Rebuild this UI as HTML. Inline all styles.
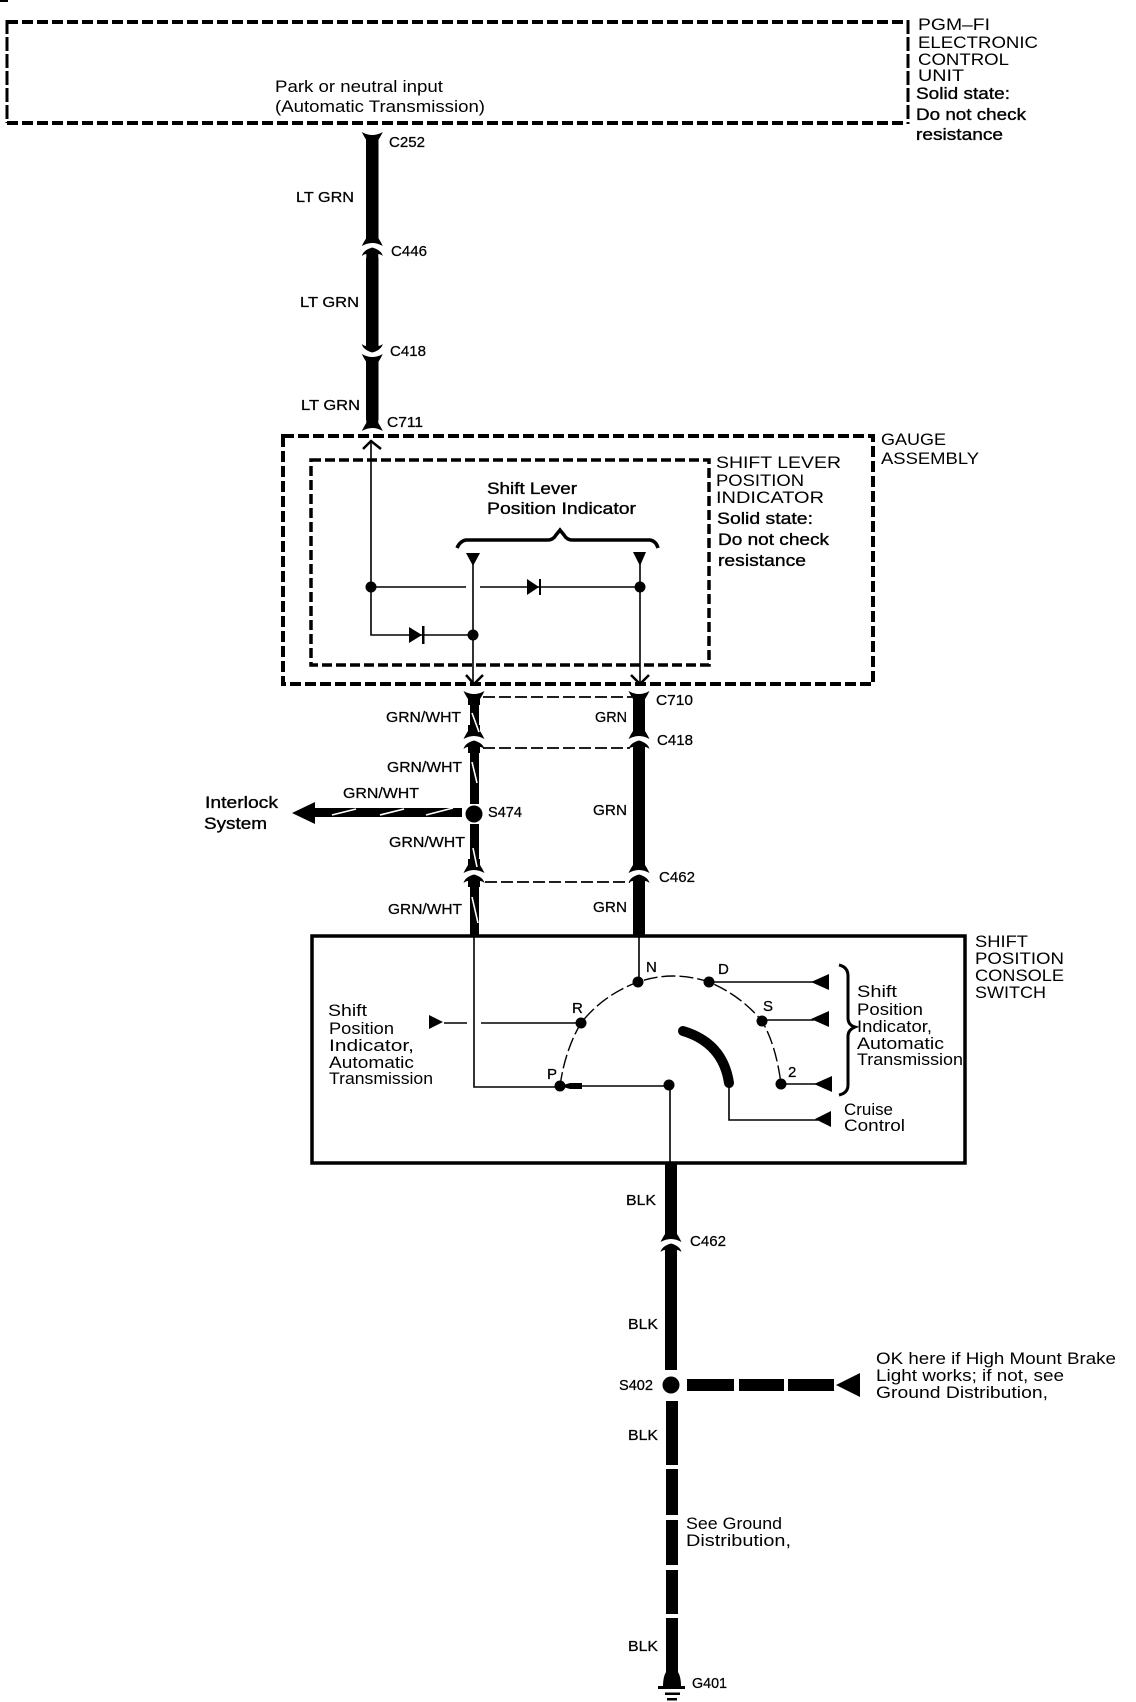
<!DOCTYPE html>
<html><head><meta charset="utf-8"><style>
html,body{margin:0;padding:0;background:#fff}
svg{display:block}
text{font-family:"Liberation Sans",sans-serif;font-size:16.5px;fill:#000}
.c{font-size:15px;stroke:#000;stroke-width:.25}
.b{stroke:#000;stroke-width:.35}
.t{fill:none;stroke:#000;stroke-width:1.6}
.w{stroke:#fff;stroke-width:1.6;fill:none}
</style></head><body>
<svg width="1136" height="1702" viewBox="0 0 1136 1702" xmlns="http://www.w3.org/2000/svg">
<defs>
<path id="cu" d="M-6,-14 L6,-14 L6,-8 Q8,-5 10.5,0 Q0,-6 -10.5,0 Q-8,-5 -6,-8 Z"/>
<path id="cl" d="M-10.5,10 Q-9,4 0,1.5 Q9,4 10.5,10 Q8,8 6,8 L6,14 L-6,14 L-6,8 Q-8,8 -10.5,10 Z"/>
<g id="conn"><use href="#cu"/><use href="#cl"/></g>
</defs>
<rect width="1136" height="1702" fill="#fff"/>
<rect x="0" y="0" width="8" height="2"/>

<!-- ECU box -->
<path d="M7,22 H907" fill="none" stroke="#000" stroke-width="4" stroke-dasharray="11 4"/>
<path d="M7,123 H907" fill="none" stroke="#000" stroke-width="4" stroke-dasharray="11 4"/>
<path d="M7,20 V123" fill="none" stroke="#000" stroke-width="3" stroke-dasharray="14 3"/>
<path d="M908,20 V124" fill="none" stroke="#000" stroke-width="3" stroke-dasharray="14 3"/>
<text x="275" y="92" textLength="168" lengthAdjust="spacingAndGlyphs">Park or neutral input</text>
<text x="275" y="112" textLength="210" lengthAdjust="spacingAndGlyphs">(Automatic Transmission)</text>
<text x="918" y="30" textLength="72" lengthAdjust="spacingAndGlyphs">PGM–FI</text>
<text x="918" y="48" textLength="120" lengthAdjust="spacingAndGlyphs">ELECTRONIC</text>
<text x="918" y="65" textLength="91" lengthAdjust="spacingAndGlyphs">CONTROL</text>
<text x="918" y="81" textLength="46" lengthAdjust="spacingAndGlyphs">UNIT</text>
<text class="b" x="916" y="99" textLength="94" lengthAdjust="spacingAndGlyphs">Solid state:</text>
<text class="b" x="916" y="120" textLength="110" lengthAdjust="spacingAndGlyphs">Do not check</text>
<text class="b" x="916" y="140" textLength="87" lengthAdjust="spacingAndGlyphs">resistance</text>

<!-- Upper wire -->
<rect x="366" y="136" width="12.5" height="105"/>
<rect x="366" y="258" width="12.5" height="88"/>
<rect x="366" y="360" width="12.5" height="60"/>
<use href="#cu" transform="translate(372.3,132) scale(1,-1)"/>
<use href="#conn" transform="translate(372.3,246)"/>
<use href="#conn" transform="translate(372.3,354) scale(1,-1)"/>
<use href="#cu" transform="translate(372.3,431)"/>
<text class="c" x="389" y="147" textLength="36" lengthAdjust="spacingAndGlyphs">C252</text>
<text class="c" x="391" y="256" textLength="36" lengthAdjust="spacingAndGlyphs">C446</text>
<text class="c" x="390" y="356" textLength="36" lengthAdjust="spacingAndGlyphs">C418</text>
<text class="c" x="387" y="427" textLength="36" lengthAdjust="spacingAndGlyphs">C711</text>
<text class="c" x="296" y="202" textLength="58" lengthAdjust="spacingAndGlyphs">LT GRN</text>
<text class="c" x="300" y="307" textLength="59" lengthAdjust="spacingAndGlyphs">LT GRN</text>
<text class="c" x="301" y="410" textLength="59" lengthAdjust="spacingAndGlyphs">LT GRN</text>

<!-- Gauge box -->
<path d="M283,436 H873 V684 H283 Z" fill="none" stroke="#000" stroke-width="4" stroke-dasharray="11 4"/>
<text x="881" y="445" textLength="65" lengthAdjust="spacingAndGlyphs">GAUGE</text>
<text x="881" y="464" textLength="98" lengthAdjust="spacingAndGlyphs">ASSEMBLY</text>
<!-- Indicator box -->
<path d="M311,460 H709 V665 H311 Z" fill="none" stroke="#000" stroke-width="3.5" stroke-dasharray="10 4"/>
<text x="716" y="468" textLength="125" lengthAdjust="spacingAndGlyphs">SHIFT LEVER</text>
<text x="716" y="486" textLength="88" lengthAdjust="spacingAndGlyphs">POSITION</text>
<text x="716" y="503" textLength="108" lengthAdjust="spacingAndGlyphs">INDICATOR</text>
<text class="b" x="717" y="524" textLength="96" lengthAdjust="spacingAndGlyphs">Solid state:</text>
<text class="b" x="718" y="545" textLength="111" lengthAdjust="spacingAndGlyphs">Do not check</text>
<text class="b" x="718" y="566" textLength="88" lengthAdjust="spacingAndGlyphs">resistance</text>
<text class="b" x="487" y="494" textLength="90" lengthAdjust="spacingAndGlyphs">Shift Lever</text>
<text class="b" x="487" y="514" textLength="149" lengthAdjust="spacingAndGlyphs">Position Indicator</text>

<!-- Indicator internals -->
<path d="M457,548 Q460,541 466,540 H548 Q553,540 556,535 L560,530 L564,535 Q567,540 572,540 H650 Q656,541 658,548" fill="none" stroke="#000" stroke-width="3.5"/>
<path class="t" d="M371,440 V635 H473"/>
<path d="M363,449 L371,441 L381,449" fill="none" stroke="#000" stroke-width="2.5"/>
<path class="t" d="M371,587 H466 M480,587 H640"/>
<path class="t" d="M473,560 V682 M640,560 V682"/>
<path d="M466,553 H480 L473,566 Z M633,552 H646 L640,566 Z"/>
<path d="M527,579 L539,587 L527,595 Z M409,627 L422,635 L409,643 Z"/>
<rect x="539" y="579" width="2" height="16"/><rect x="422" y="626" width="2.5" height="18"/>
<circle cx="371" cy="587" r="5.5"/><circle cx="640" cy="587" r="5.5"/><circle cx="473" cy="635" r="5.5"/>
<path d="M466,675 L474,684 L483,675 M631,675 L640,684 L649,675" fill="none" stroke="#000" stroke-width="2.5"/>

<!-- Lower pair of wires -->
<rect x="470" y="695" width="9" height="38"/>
<rect x="470" y="750" width="9" height="54"/>
<rect x="470" y="824" width="9" height="44"/>
<rect x="470" y="885" width="9" height="51"/>
<rect x="633" y="695" width="12" height="38"/>
<rect x="633" y="750" width="12" height="118"/>
<rect x="633" y="885" width="12" height="51"/>
<use href="#cu" transform="translate(474,691) scale(1,-1)"/>
<use href="#cu" transform="translate(639,691) scale(1,-1)"/>
<use href="#conn" transform="translate(474,739)"/>
<use href="#conn" transform="translate(639,739)"/>
<use href="#conn" transform="translate(474,873)"/>
<use href="#conn" transform="translate(639,873)"/>
<path d="M472,713 L479,732 M472,762 L477,783 M473,848 L477,867 M472,897 L478,923" class="w"/>
<path d="M483,697 H632 M483,748 H630 M485,882 H630" fill="none" stroke="#000" stroke-width="1.8" stroke-dasharray="12 4"/>
<!-- Interlock branch -->
<rect x="312" y="808" width="150" height="9"/>
<path d="M292,813 L315,802 V824 Z"/>
<path class="w" d="M332,815 L356,809 M380,815 L404,809 M426,815 L453,808" stroke-width="2"/>
<circle cx="474" cy="814" r="8.5"/>
<text class="c" x="386" y="722" textLength="75" lengthAdjust="spacingAndGlyphs">GRN/WHT</text>
<text class="c" x="387" y="772" textLength="75" lengthAdjust="spacingAndGlyphs">GRN/WHT</text>
<text class="c" x="343" y="798" textLength="76" lengthAdjust="spacingAndGlyphs">GRN/WHT</text>
<text class="c" x="389" y="847" textLength="76" lengthAdjust="spacingAndGlyphs">GRN/WHT</text>
<text class="c" x="388" y="914" textLength="74" lengthAdjust="spacingAndGlyphs">GRN/WHT</text>
<text class="c" x="595" y="722" textLength="32" lengthAdjust="spacingAndGlyphs">GRN</text>
<text class="c" x="593" y="815" textLength="34" lengthAdjust="spacingAndGlyphs">GRN</text>
<text class="c" x="593" y="912" textLength="34" lengthAdjust="spacingAndGlyphs">GRN</text>
<text class="c" x="656" y="705" textLength="37" lengthAdjust="spacingAndGlyphs">C710</text>
<text class="c" x="657" y="745" textLength="36" lengthAdjust="spacingAndGlyphs">C418</text>
<text class="c" x="659" y="882" textLength="36" lengthAdjust="spacingAndGlyphs">C462</text>
<text class="c" x="488" y="817" textLength="34" lengthAdjust="spacingAndGlyphs">S474</text>
<text class="b" x="205" y="808" textLength="73" lengthAdjust="spacingAndGlyphs">Interlock</text>
<text class="b" x="204" y="829" textLength="63" lengthAdjust="spacingAndGlyphs">System</text>

<!-- Switch box -->
<rect x="312" y="936" width="653" height="227" fill="none" stroke="#000" stroke-width="3.5"/>
<text x="975" y="947" textLength="53" lengthAdjust="spacingAndGlyphs">SHIFT</text>
<text x="975" y="964" textLength="89" lengthAdjust="spacingAndGlyphs">POSITION</text>
<text x="975" y="981" textLength="89" lengthAdjust="spacingAndGlyphs">CONSOLE</text>
<text x="975" y="998" textLength="71" lengthAdjust="spacingAndGlyphs">SWITCH</text>
<path class="t" d="M474,936 V1087 H560 M639,936 V982 M709,982 H814 M762,1020 H814 M781,1084 H816 M444,1023 H467 M481,1023 H581 M560,1086 H669 M670,1085 V1163 M729,1083 V1120 H818"/>
<path d="M560,1086 L570,1083 L582,1083 V1089 L570,1089 Z"/>
<path d="M560,1086 Q565,1050 581,1023 Q603,995 638,982 Q673,970 709,982 Q740,995 762,1021 Q776,1045 781,1084" fill="none" stroke="#000" stroke-width="1.4" stroke-dasharray="14 4"/>
<path d="M683,1031 Q723,1043 729,1083" fill="none" stroke="#000" stroke-width="10" stroke-linecap="round"/>
<g>
<circle cx="638" cy="982" r="5.5"/><circle cx="709" cy="982" r="5.5"/><circle cx="762" cy="1021" r="5.5"/>
<circle cx="581" cy="1023" r="5.5"/><circle cx="781" cy="1084" r="5.5"/><circle cx="560" cy="1086" r="5.5"/><circle cx="669" cy="1085" r="5.5"/>
</g>
<path d="M811,982 L829,974 V990 Z M811,1019 L829,1011 V1027 Z M814,1084 L832,1076 V1092 Z M815,1119 L831,1111 V1127 Z M429,1015 L443,1022 L429,1029 Z"/>
<path d="M839,965 Q848,967 848,976 V1018 Q848,1025 855,1027 Q848,1030 848,1036 V1085 Q848,1093 839,1095" fill="none" stroke="#000" stroke-width="3"/>
<text class="c" x="646" y="972">N</text>
<text class="c" x="718" y="974">D</text>
<text class="c" x="763" y="1011">S</text>
<text class="c" x="572" y="1013">R</text>
<text class="c" x="788" y="1077">2</text>
<text class="c" x="547" y="1079">P</text>
<text x="857" y="997" textLength="40" lengthAdjust="spacingAndGlyphs">Shift</text>
<text x="857" y="1015" textLength="66" lengthAdjust="spacingAndGlyphs">Position</text>
<text x="857" y="1032" textLength="75" lengthAdjust="spacingAndGlyphs">Indicator,</text>
<text x="857" y="1049" textLength="87" lengthAdjust="spacingAndGlyphs">Automatic</text>
<text x="857" y="1065" textLength="106" lengthAdjust="spacingAndGlyphs">Transmission</text>
<text x="844" y="1115" textLength="49" lengthAdjust="spacingAndGlyphs">Cruise</text>
<text x="844" y="1131" textLength="61" lengthAdjust="spacingAndGlyphs">Control</text>
<text x="328" y="1016" textLength="39" lengthAdjust="spacingAndGlyphs">Shift</text>
<text x="329" y="1034" textLength="65" lengthAdjust="spacingAndGlyphs">Position</text>
<text x="329" y="1051" textLength="85" lengthAdjust="spacingAndGlyphs">Indicator,</text>
<text x="329" y="1068" textLength="85" lengthAdjust="spacingAndGlyphs">Automatic</text>
<text x="329" y="1084" textLength="104" lengthAdjust="spacingAndGlyphs">Transmission</text>

<!-- Bottom wire -->
<rect x="665" y="1162" width="12" height="72"/>
<rect x="665" y="1252" width="12" height="118"/>
<use href="#conn" transform="translate(671,1242)"/>
<circle cx="671" cy="1385" r="8.5"/>
<path d="M687,1379 H734 V1391 H687 Z M739,1379 H784 V1391 H739 Z M788,1379 H834 V1391 H788 Z M836,1385 L860,1373 V1397 Z"/>
<rect x="666" y="1401" width="12" height="64"/>
<rect x="666" y="1469" width="12" height="46"/>
<rect x="666" y="1520" width="12" height="45"/>
<rect x="666" y="1570" width="12" height="44"/>
<rect x="666" y="1618" width="12" height="54"/>
<path d="M666,1672 H678 Q681,1677 681,1686 H663 Q663,1677 666,1672 Z"/>
<rect x="658" y="1686" width="27" height="3"/>
<rect x="665" y="1692.500" width="15" height="2.500"/>
<rect x="667" y="1698" width="10" height="2.500"/>
<text class="c" x="626" y="1205" textLength="30" lengthAdjust="spacingAndGlyphs">BLK</text>
<text class="c" x="628" y="1329" textLength="30" lengthAdjust="spacingAndGlyphs">BLK</text>
<text class="c" x="628" y="1440" textLength="30" lengthAdjust="spacingAndGlyphs">BLK</text>
<text class="c" x="628" y="1651" textLength="30" lengthAdjust="spacingAndGlyphs">BLK</text>
<text class="c" x="690" y="1246" textLength="36" lengthAdjust="spacingAndGlyphs">C462</text>
<text class="c" x="692" y="1688" textLength="35" lengthAdjust="spacingAndGlyphs">G401</text>
<text class="c" x="619" y="1390" textLength="34" lengthAdjust="spacingAndGlyphs">S402</text>
<text x="876" y="1364" textLength="240" lengthAdjust="spacingAndGlyphs">OK here if High Mount Brake</text>
<text x="876" y="1381" textLength="188" lengthAdjust="spacingAndGlyphs">Light works; if not, see</text>
<text x="876" y="1398" textLength="172" lengthAdjust="spacingAndGlyphs">Ground Distribution,</text>
<text x="686" y="1529" textLength="96" lengthAdjust="spacingAndGlyphs">See Ground</text>
<text x="686" y="1546" textLength="105" lengthAdjust="spacingAndGlyphs">Distribution,</text>
</svg>
</body></html>
